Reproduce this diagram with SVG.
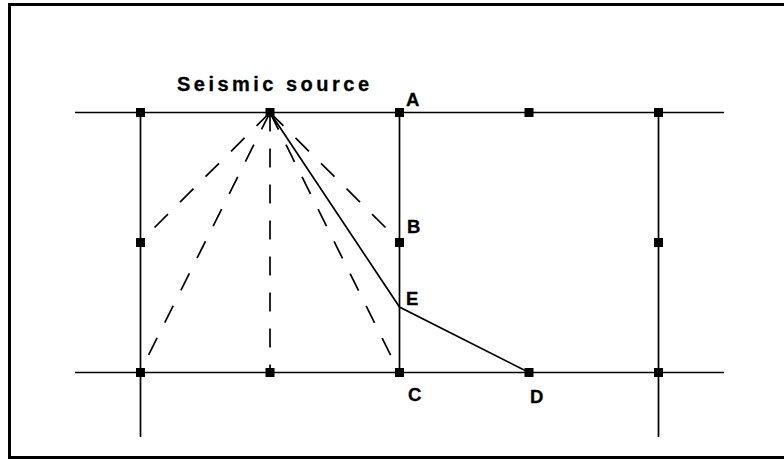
<svg xmlns="http://www.w3.org/2000/svg" width="784" height="459" viewBox="0 0 784 459">
<style>
.ln{stroke:#000;stroke-width:1.7;fill:none}
.ds{stroke:#000;stroke-width:1.7;fill:none;stroke-dasharray:19 17}
.sq{fill:#000}
.lb{font-family:"Liberation Sans",Arial,sans-serif;font-weight:bold;font-size:18.5px;fill:#000;stroke:#000;stroke-width:0.3}
.ttl{font-family:"Liberation Sans",Arial,sans-serif;font-weight:bold;font-size:20px;fill:#000;stroke:#000;stroke-width:0.3}
</style>
<rect x="0" y="0" width="784" height="459" fill="#fff"/>
<rect x="9.5" y="4.5" width="790" height="453" fill="none" stroke="#000" stroke-width="3"/>
<g id="connectors">
<line class="ln" x1="75" y1="112.5" x2="724" y2="112.5"/>
<line class="ln" x1="75" y1="372.5" x2="724" y2="372.5"/>
<line class="ln" x1="140.5" y1="112.5" x2="140.5" y2="437"/>
<line class="ln" x1="399.5" y1="112.5" x2="399.5" y2="372.5"/>
<line class="ln" x1="658.5" y1="112.5" x2="658.5" y2="437"/>
<line class="ds" x1="270" y1="112.5" x2="148" y2="234"/>
<line class="ds" x1="270" y1="112.5" x2="148" y2="356"/>
<line class="ds" x1="270" y1="112.5" x2="270" y2="372"/>
<line class="ds" x1="270" y1="112.5" x2="391" y2="356"/>
<line class="ds" x1="270" y1="112.5" x2="386" y2="228"/>
<polyline class="ln" points="270,112.5 399.5,307 529,372.5"/>
</g>
<g id="source"><rect class="sq" x="265.5" y="108" width="9" height="9"/><text class="ttl" x="177" y="91" textLength="192" lengthAdjust="spacing">Seismic source</text></g>
<g id="p-top-1"><rect class="sq" x="136" y="108" width="9" height="9"/></g>
<g id="A"><rect class="sq" x="395" y="108" width="9" height="9"/><text class="lb" x="406" y="106">A</text></g>
<g id="p-top-4"><rect class="sq" x="524.5" y="108" width="9" height="9"/></g>
<g id="p-top-5"><rect class="sq" x="654" y="108" width="9" height="9"/></g>
<g id="p-mid-1"><rect class="sq" x="136" y="238" width="9" height="9"/></g>
<g id="B"><rect class="sq" x="395" y="238" width="9" height="9"/><text class="lb" x="407" y="233">B</text></g>
<g id="p-mid-5"><rect class="sq" x="654" y="238" width="9" height="9"/></g>
<g id="E"><text class="lb" x="406" y="305">E</text></g>
<g id="p-bot-1"><rect class="sq" x="136" y="368" width="9" height="9"/></g>
<g id="p-bot-2"><rect class="sq" x="265.5" y="368" width="9" height="9"/></g>
<g id="C"><rect class="sq" x="395" y="368" width="9" height="9"/><text class="lb" x="408" y="401">C</text></g>
<g id="D"><rect class="sq" x="524.5" y="368" width="9" height="9"/><text class="lb" x="530" y="403">D</text></g>
<g id="p-bot-5"><rect class="sq" x="654" y="368" width="9" height="9"/></g>
</svg>
